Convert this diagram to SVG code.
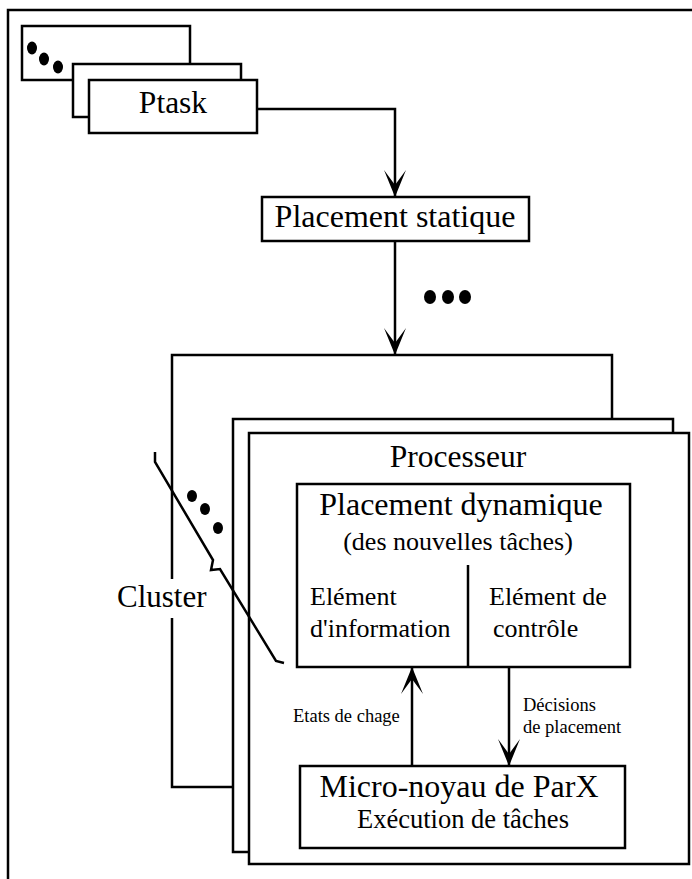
<svg xmlns="http://www.w3.org/2000/svg" width="692" height="879" viewBox="0 0 692 879">
<style>
.box{fill:#fff;stroke:#000;stroke-width:2.5}
.ln{fill:none;stroke:#000;stroke-width:2.5}
text{font-family:"Liberation Serif","DejaVu Serif","Times New Roman",serif;fill:#000}
.dot{fill:#000}
</style>
<defs>
<marker id="ah" markerUnits="userSpaceOnUse" viewBox="-12 -26 24 28" refX="0" refY="0" markerWidth="24" markerHeight="28" orient="auto-start-reverse" overflow="visible">
<path d="M0,0 L-11,-27 L0,-12 L11,-27 Z" fill="#000" transform="rotate(-90)"/>
</marker>
</defs>
<rect width="692" height="879" fill="#fff"/>
<rect id="frame" x="8" y="10" width="720" height="900" class="box" fill="none"/>

<g font-family="Liberation Serif, DejaVu Serif, serif">
<g id="ptask-stack">
<rect x="22" y="26" width="168" height="54" class="box"/>
<ellipse cx="32" cy="48" rx="5" ry="6.5" class="dot"/>
<ellipse cx="44" cy="59" rx="5" ry="6.5" class="dot"/>
<ellipse cx="58" cy="67" rx="5" ry="6.5" class="dot"/>
<rect x="73" y="64" width="168" height="53" class="box"/>
</g>
<g id="ptask">
<rect x="89" y="80" width="168" height="53" class="box"/>
<text x="173" y="113" font-size="31.5" text-anchor="middle" font-family="Liberation Serif, serif">Ptask</text>
</g>

<g id="placement-statique">
<rect x="262" y="197" width="267" height="44" class="box"/>
<text x="395" y="227" font-size="32" text-anchor="middle" font-family="Liberation Serif, serif">Placement statique</text>
</g>
<g id="dots-mid">
<ellipse cx="430" cy="297" rx="6" ry="7" class="dot"/>
<ellipse cx="448" cy="297" rx="6" ry="7" class="dot"/>
<ellipse cx="465" cy="297" rx="6" ry="7" class="dot"/>
</g>

<g id="cluster">
<rect x="172" y="355" width="440" height="432" class="box"/>
<rect x="112" y="579" width="100" height="39" fill="#fff"/>
<text x="117" y="607" font-size="31" font-family="Liberation Serif, serif">Cluster</text>
</g>
<g id="processeur-back">
<rect x="233" y="419" width="440" height="433" class="box"/>
</g>
<g id="processeur">
<rect x="249" y="433" width="440" height="431" class="box"/>
<text x="458" y="467" font-size="31.5" text-anchor="middle" font-family="Liberation Serif, serif">Processeur</text>
</g>
<g id="cluster-slash">
<path d="M155,452 L155,462 L213,560 L211,570 L220,569 L276,661 L284,663" class="ln"/>
<ellipse cx="192" cy="496" rx="5" ry="6" class="dot"/>
<ellipse cx="205" cy="509" rx="5" ry="6" class="dot"/>
<ellipse cx="218" cy="528" rx="5" ry="6" class="dot"/>
</g>

<g id="placement-dynamique">
<rect x="297" y="484" width="333" height="183" class="box"/>
<line x1="468" y1="565" x2="468" y2="667" class="ln"/>
<text x="461" y="515" font-size="32" text-anchor="middle" font-family="Liberation Serif, serif">Placement dynamique</text>
<text x="458" y="550" font-size="26" text-anchor="middle" font-family="Liberation Serif, serif">(des nouvelles tâches)</text>
<text x="310" y="605" font-size="26" font-family="Liberation Serif, serif">Elément</text>
<text x="310" y="637" font-size="26" font-family="Liberation Serif, serif">d'information</text>
<text x="489" y="605" font-size="26" font-family="Liberation Serif, serif">Elément de</text>
<text x="493" y="637" font-size="26" font-family="Liberation Serif, serif">contrôle</text>
</g>

<g id="micro-noyau">
<rect x="300" y="766" width="325" height="82" class="box"/>
<text x="459" y="797" font-size="32" text-anchor="middle" font-family="Liberation Serif, serif">Micro-noyau de ParX</text>
<text x="463" y="828" font-size="26.5" text-anchor="middle" font-family="Liberation Serif, serif">Exécution de tâches</text>
</g>

<g id="connectors">
<path d="M257,109 L395,109 L395,197" class="ln" marker-end="url(#ah)"/>
<path d="M395,241 L395,355" class="ln" marker-end="url(#ah)"/>
<path d="M412,766 L412,667" class="ln" marker-end="url(#ah)"/>
<path d="M509,667 L509,766" class="ln" marker-end="url(#ah)"/>
<text x="293" y="722" font-size="18.5" font-family="Liberation Serif, serif">Etats de chage</text>
<text x="523" y="711" font-size="18.5" font-family="Liberation Serif, serif">Décisions</text>
<text x="523" y="733" font-size="18.5" font-family="Liberation Serif, serif">de placement</text>
</g>
</g>
</svg>
